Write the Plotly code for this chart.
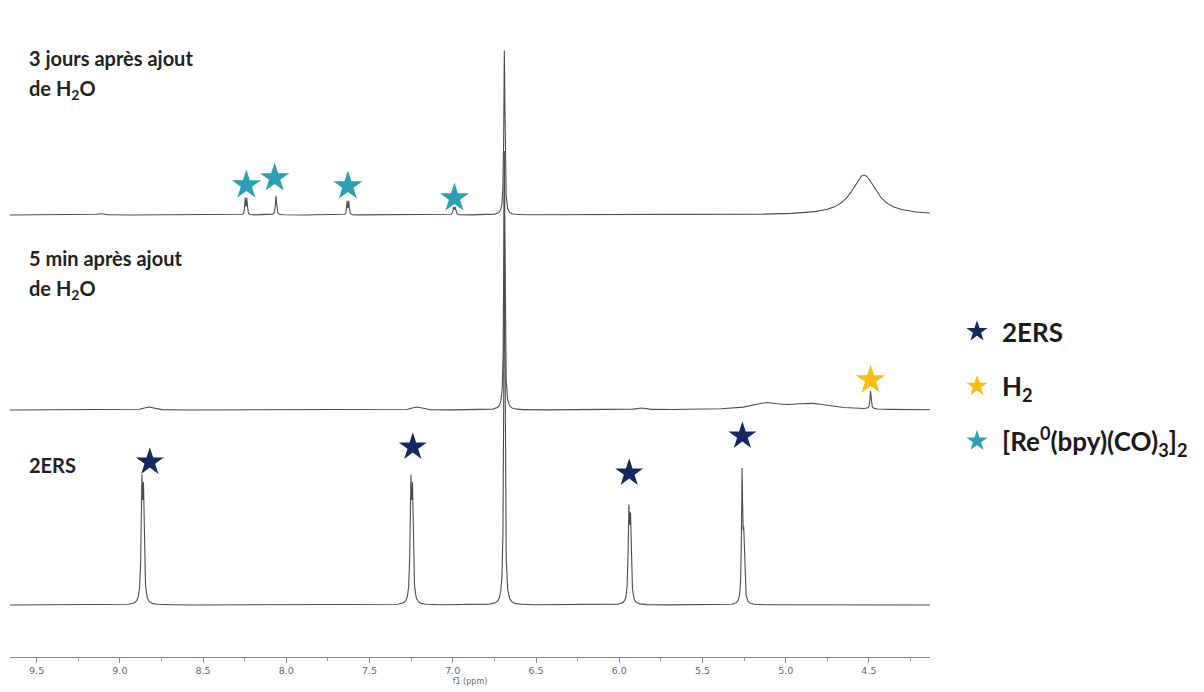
import numpy as np
import plotly.graph_objects as go

# ---------------- data ----------------
ppm_start, ppm_end = 9.66, 4.133

# 2ERS spectrum: peak centres (ppm), heights, half-widths
ers_centres = [8.868, 8.858, 7.252, 7.242, 6.690, 5.942, 5.932, 5.262, 5.252]
ers_heights = [110, 100, 110, 100, 420, 85, 75, 125, 60]
ers_widths = [0.005, 0.005, 0.005, 0.005, 0.004, 0.005, 0.005, 0.004, 0.005]
ers_offset = 52

# 5 min après ajout de H2O
min5_centres = [8.83, 7.22, 6.690, 5.876, 5.12, 4.85, 4.490]
min5_heights = [3, 3, 260, 2, 6, 6, 18]
min5_widths = [0.03, 0.03, 0.004, 0.03, 0.10, 0.15, 0.004]
min5_offset = 247

# 3 jours après ajout de H2O
day3_centres = [9.12, 8.247, 8.237, 8.062, 7.635, 7.625, 6.995, 6.985, 6.690, 4.53]
day3_heights = [1.5, 16, 16, 19, 13, 13, 7, 7, 165, 40]
day3_widths = [0.02, 0.003, 0.003, 0.004, 0.003, 0.003, 0.004, 0.004, 0.004, 0.09]
day3_offset = 442

# star markers (ppm, height)
star_ers_x = [8.82, 7.24, 5.94, 5.26]
star_ers_y = [195, 210, 184, 221]
star_h2_x = [4.49]
star_h2_y = [277]
star_re_x = [8.24, 8.07, 7.63, 6.99]
star_re_y = [472, 479, 471, 459]

tick_vals = [9.5, 9.0, 8.5, 8.0, 7.5, 7.0, 6.5, 6.0, 5.5, 5.0, 4.5]
tick_text = ["9.5", "9.0", "8.5", "8.0", "7.5", "7.0", "6.5", "6.0", "5.5", "5.0", "4.5"]

NAVY = "#13285e"
GOLD = "#f7bd12"
TEAL = "#2b9fb3"
LINE = "#4d4d4d"

x = np.linspace(ppm_start, ppm_end, 8000)


def spectrum(centres, heights, widths, offset):
    y = np.full_like(x, float(offset))
    for c, h, w in zip(centres, heights, widths):
        y += h / (1.0 + ((x - c) / w) ** 2)
    return y


fig = go.Figure()
for name, cs, hs, ws, off in [
    ("2ERS", ers_centres, ers_heights, ers_widths, ers_offset),
    ("5 min", min5_centres, min5_heights, min5_widths, min5_offset),
    ("3 jours", day3_centres, day3_heights, day3_widths, day3_offset),
]:
    fig.add_trace(go.Scatter(x=x, y=spectrum(cs, hs, ws, off), mode="lines",
                             line=dict(color=LINE, width=1.1), showlegend=False,
                             hoverinfo="skip", name=name))

fig.add_trace(go.Scatter(x=star_ers_x, y=star_ers_y, mode="markers",
                         marker=dict(symbol="star", size=21, color=NAVY),
                         name="<b>2ERS</b>", legendgroup="a"))
fig.add_trace(go.Scatter(x=star_h2_x, y=star_h2_y, mode="markers",
                         marker=dict(symbol="star", size=22, color=GOLD),
                         name="<b>H<sub>2</sub></b>", legendgroup="b"))
fig.add_trace(go.Scatter(x=star_re_x, y=star_re_y, mode="markers",
                         marker=dict(symbol="star", size=22, color=TEAL),
                         name="<b>[Re<sup>0</sup>(bpy)(CO)<sub>3</sub>]<sub>2</sub></b>",
                         legendgroup="c"))

# page body adds an 8px offset; figure coordinates = reference - 8
PLOT_H = 649
FONT = "Lato"
ann = []
def label(text, ypx, size=20):
    ann.append(dict(text=f"<b>{text}</b>", xref="paper", yref="paper",
                    x=(27 - 10) / 920, y=1 - (ypx - 8) / PLOT_H, xanchor="left", yanchor="middle",
                    showarrow=False, font=dict(family=FONT, size=size, color="#222222")))

label("3 jours après ajout", 58)
label("de H<sub>2</sub>O", 90)
label("5 min après ajout", 258)
label("de H<sub>2</sub>O", 289)
label("2ERS", 465)

fig.update_layout(
    width=1196, height=684,
    margin=dict(l=2, r=274, t=0, b=684 - PLOT_H),
    paper_bgcolor="white", plot_bgcolor="white",
    annotations=ann,
    showlegend=True,
    legend=dict(x=(952 - 10) / 920, y=1 - (308 - 8) / PLOT_H, xanchor="left", yanchor="top",
                font=dict(family=FONT, size=26, color="#1a1a1a"),
                tracegroupgap=18, bgcolor="rgba(0,0,0,0)", itemsizing="trace",
                itemwidth=40),
    xaxis=dict(range=[ppm_start, ppm_end], showgrid=False, zeroline=False,
               showline=True, linecolor="#888888", linewidth=1,
               ticks="outside", ticklen=5, tickcolor="#888888",
               tickvals=tick_vals, ticktext=tick_text,
               tickfont=dict(family="DejaVu Sans", size=9.5, color="#666666"),
               minor=dict(dtick=0.25, tick0=4.5, ticks="outside", ticklen=3, tickcolor="#999999"),
               title=dict(text="f1 (ppm)", font=dict(family="DejaVu Sans", size=8, color="#666666"),
                          standoff=2)),
    yaxis=dict(range=[0, PLOT_H], visible=False, fixedrange=True),
)

fig.write_html("out.html")
